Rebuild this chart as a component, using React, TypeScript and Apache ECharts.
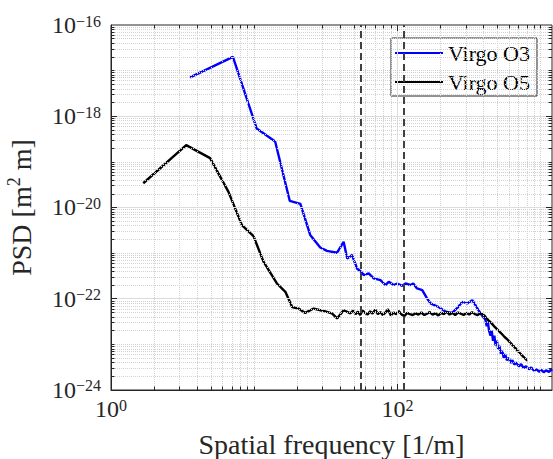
import React, { useEffect, useRef } from 'react';
import * as echarts from 'echarts';

// ---- data ----
const o3Freq = [
  3.57, 7.1, 10.4, 14.0, 17.7, 21.0, 24.6, 28.9, 32.2, 37.9, 42.1, 44.6, 48.2, 52.2, 55.7, 58.1, 63,
  68.3, 76.1, 82.4, 86.9, 94.2, 99.5, 108, 114, 123, 129, 137, 149, 161, 170, 194, 217, 241, 261, 283,
  307, 333, 351, 380, 412, 420, 428, 436, 447, 455, 465, 475, 484, 495, 505, 515, 528, 540, 552, 565,
  580, 600, 615, 635, 655, 675, 705, 730, 760, 790, 828, 860, 900, 940, 973, 1010, 1050, 1090, 1143,
  1180, 1200,
];
const o3Psd = [
  7.1e-18, 2.0e-17, 5.4e-19, 2.8e-19, 1.4e-20, 1.2e-20, 2.5e-21, 1.33e-21, 1.12e-21, 1.02e-21, 1.77e-21,
  7.6e-22, 9.1e-22, 4.6e-22, 3.9e-22, 3.3e-22, 3.6e-22, 2.8e-22, 2.57e-22, 2.0e-22, 2.35e-22, 2.0e-22,
  2.16e-22, 1.92e-22, 2.16e-22, 2.0e-22, 2.16e-22, 1.68e-22, 1.55e-22, 1.02e-22, 7.9e-23, 6.6e-23,
  5.2e-23, 4.9e-23, 6.2e-23, 8.5e-23, 7.9e-23, 9.3e-23, 7.2e-23, 4.8e-23, 3.4e-23, 2.5e-23, 3.1e-23,
  2.0e-23, 1.55e-23, 2.0e-23, 1.2e-23, 1.55e-23, 9.5e-24, 1.2e-23, 7.8e-24, 9.4e-24, 6.2e-24,
  7.2e-24, 5.1e-24, 6.1e-24, 4.5e-24, 5.1e-24, 3.9e-24, 4.5e-24, 3.6e-24, 4.0e-24, 3.3e-24, 3.7e-24,
  3.05e-24, 3.3e-24, 2.85e-24, 3.1e-24, 2.65e-24, 2.85e-24, 2.5e-24, 2.75e-24, 2.45e-24, 2.7e-24,
  2.5e-24, 2.8e-24, 2.6e-24,
];
const o5Freq = [
  1.68, 3.35, 4.92, 6.61, 8.2, 9.89, 11.6, 14.4, 16.5, 18.4, 20.4, 22.7, 26.0, 30.5, 34.9, 37.9, 42.1,
  47, 49, 51, 53, 55, 57, 59.5, 62, 64.5, 67, 70, 73, 76, 79, 82, 86, 90, 94, 98, 102, 107, 112, 117,
  122, 128, 134, 140, 147, 154, 161, 168, 176, 184, 193, 202, 211, 221, 231, 242, 253, 265, 277, 290,
  303, 317, 332, 347, 363, 380, 398, 412, 430, 450, 470, 500, 530, 560, 590, 620, 655, 690, 720, 750,
  780, 807,
];
const o5Psd = [
  3.4e-20, 2.33e-19, 1.21e-19, 2.2e-20, 4.1e-21, 2.36e-21, 6.5e-22, 2.16e-22, 1.42e-22, 6.6e-23,
  6.1e-23, 4.9e-23, 6.1e-23, 5.4e-23, 4.8e-23, 3.7e-23, 5.6e-23,
  4.8e-23, 5.5e-23, 4.6e-23, 5.2e-23, 4.4e-23, 5.6e-23, 4.9e-23, 4.5e-23, 5.3e-23, 4.7e-23, 5.8e-23,
  4.6e-23, 5.1e-23, 4.4e-23, 4.9e-23, 5.9e-23, 4.3e-23, 5.0e-23, 4.6e-23, 5.4e-23, 4.5e-23, 4.2e-23,
  4.9e-23, 4.6e-23, 4.4e-23, 4.8e-23, 4.5e-23, 5.0e-23, 4.4e-23, 4.7e-23, 5.1e-23, 4.5e-23, 4.8e-23,
  4.3e-23, 4.9e-23, 4.6e-23, 5.2e-23, 4.5e-23, 4.9e-23, 4.4e-23, 5.0e-23, 4.7e-23, 4.4e-23, 4.9e-23,
  4.5e-23, 5.1e-23, 4.6e-23, 4.4e-23, 4.8e-23, 4.5e-23, 4.0e-23,
  3.4e-23, 3.0e-23, 2.55e-23, 2.1e-23, 1.75e-23, 1.45e-23, 1.25e-23, 1.05e-23, 8.8e-24, 7.3e-24,
  6.3e-24, 5.5e-24, 4.9e-24, 4.4e-24,
];
const markerFreqs = [55, 110];
const seriesNames = ['Virgo O3', 'Virgo O5'];
const X_MIN = 1;
const X_MAX = 1200;
const Y_MIN = 0.99999e-24;
const Y_MAX = 1e-16;

// ---- styling ----
const GRID = { left: 111, top: 25, width: 441, height: 365 };
const FONT = "'Liberation Serif', 'Times New Roman', serif";
const INK = '#262626';

type G = { v: number; k: number; n: number; major: boolean };
function logGridValues(min: number, max: number): G[] {
  const out: G[] = [];
  const n0 = Math.floor(Math.log10(min));
  const n1 = Math.ceil(Math.log10(max));
  for (let n = n0; n <= n1; n++) {
    for (let k = 1; k <= 9; k++) {
      const v = k * Math.pow(10, n);
      if (v >= min * 0.999 && v <= max * 1.001) out.push({ v, k, n, major: k === 1 && n % 2 === 0 });
    }
  }
  return out;
}

function powLabel(v: number) {
  const e = Math.log10(v);
  const r = Math.round(e);
  if (Math.abs(e - r) > 1e-4 || r % 2 !== 0) return '';
  return `{b|10}{s|${r < 0 ? '\u2212' + -r : r}}`;
}

const tickRich = {
  b: { fontFamily: FONT, fontSize: 24, lineHeight: 24, padding: [3, 0, 3, 0], color: INK },
  s: { fontFamily: FONT, fontSize: 16, lineHeight: 16, verticalAlign: 'top', color: INK },
};

function buildOption() {
  const xDec = Math.log10(X_MAX / X_MIN);
  const yDec = Math.log10(Y_MAX / Y_MIN);
  const fx = (px: number) => Math.pow(10, (px * xDec) / GRID.width);
  const fy = (px: number) => Math.pow(10, (px * yDec) / GRID.height);
  const xVals = logGridValues(X_MIN, X_MAX).filter((g) => g.v > X_MIN * 1.001 && g.v < X_MAX * 0.999);
  const yVals = logGridValues(Y_MIN, Y_MAX).filter((g) => g.v > Y_MIN * 1.001 && g.v < Y_MAX * 0.999);

  const majorGrid = { color: '#dcdcdc', width: 1, type: 'solid' as const };
  const minorGrid = { color: '#d2d2d2', width: 1, type: [1, 1] };

  const gridLines: any[] = [
    ...xVals.map((g) => [
      { coord: [g.v, Y_MIN], lineStyle: g.major ? majorGrid : minorGrid },
      { coord: [g.v, Y_MAX] },
    ]),
    ...yVals.map((g) => [
      { coord: [X_MIN, g.v], lineStyle: g.major ? majorGrid : minorGrid },
      { coord: [X_MAX, g.v] },
    ]),
  ];

  const ticks: any[] = [];
  for (const g of xVals) {
    const f = fy(g.major ? 6 : 3.5);
    ticks.push([{ coord: [g.v, Y_MIN] }, { coord: [g.v, Y_MIN * f] }]);
    ticks.push([{ coord: [g.v, Y_MAX] }, { coord: [g.v, Y_MAX / f] }]);
  }
  for (const g of yVals) {
    const f = fx(g.major ? 6 : 3.5);
    ticks.push([{ coord: [X_MIN, g.v] }, { coord: [X_MIN * f, g.v] }]);
    ticks.push([{ coord: [X_MAX, g.v] }, { coord: [X_MAX / f, g.v] }]);
  }

  const markBase = {
    symbol: ['none', 'none'],
    silent: true,
    animation: false,
    precision: 20,
    label: { show: false },
    emphasis: { disabled: true },
  };

  return {
    animation: false,
    backgroundColor: '#ffffff',
    grid: {
      ...GRID,
      show: true,
      borderColor: INK,
      borderWidth: 1,
      backgroundColor: '#ffffff',
      containLabel: false,
      outerBoundsMode: 'none',
    },
    legend: {
      data: seriesNames,
      orient: 'vertical',
      right: 16,
      top: 38,
      padding: [4, 7, 3, 4],
      itemGap: 7,
      itemWidth: 48,
      itemHeight: 2,
      icon: 'rect',
      backgroundColor: '#ffffff',
      borderColor: INK,
      borderWidth: 1,
      borderRadius: 0,
      selectedMode: false,
      textStyle: { fontFamily: FONT, fontSize: 22, color: '#000', lineHeight: 22 },
    },
    xAxis: {
      type: 'log',
      logBase: 10,
      min: X_MIN,
      max: X_MAX,
      name: 'Spatial frequency [1/m]',
      nameLocation: 'middle',
      nameGap: 40,
      nameMoveOverlap: false,
      nameTextStyle: { fontFamily: FONT, fontSize: 28, color: INK },
      axisLine: { show: true, lineStyle: { color: INK, width: 1 } },
      axisTick: { show: false },
      splitLine: { show: false },
      minorSplitLine: { show: false },
      axisLabel: { margin: 7, formatter: powLabel, rich: tickRich, showMinLabel: true, showMaxLabel: true, hideOverlap: false },
    },
    yAxis: {
      type: 'log',
      logBase: 10,
      min: Y_MIN,
      max: Y_MAX,
      name: '{b|PSD [m}{s|2}{b| m]}',
      nameLocation: 'middle',
      nameRotate: 90,
      nameGap: 78,
      nameMoveOverlap: false,
      nameTextStyle: {
        fontFamily: FONT,
        fontSize: 28,
        color: INK,
        rich: {
          b: { fontFamily: FONT, fontSize: 28, lineHeight: 28, padding: [5, 0, 0, 0], color: INK },
          s: { fontFamily: FONT, fontSize: 18, lineHeight: 18, verticalAlign: 'top', color: INK },
        },
      },
      axisLine: { show: true, lineStyle: { color: INK, width: 1 } },
      axisTick: { show: false },
      splitLine: { show: false },
      minorSplitLine: { show: false },
      axisLabel: { margin: 10, formatter: powLabel, rich: tickRich, showMinLabel: true, showMaxLabel: true, hideOverlap: false },
    },
    series: [
      {
        name: '__grid',
        type: 'line',
        data: [],
        z: 1,
        markLine: { ...markBase, data: gridLines },
      },
      {
        name: '__markers',
        type: 'line',
        data: [],
        z: 2,
        markLine: {
          ...markBase,
          lineStyle: { color: '#404040', width: 2, type: [7, 4] },
          data: markerFreqs.map((v) => ({ xAxis: v })),
        },
      },
      {
        name: seriesNames[0],
        type: 'line',
        data: o3Freq.map((f, i) => [f, o3Psd[i]]),
        symbol: 'none',
        showSymbol: false,
        z: 3,
        lineStyle: { color: '#0000ff', width: 2.4 },
        itemStyle: { color: '#0000ff' },
      },
      {
        name: seriesNames[1],
        type: 'line',
        data: o5Freq.map((f, i) => [f, o5Psd[i]]),
        symbol: 'none',
        showSymbol: false,
        z: 4,
        lineStyle: { color: '#000000', width: 2.4 },
        itemStyle: { color: '#000000' },
      },
      {
        name: '__ticks',
        type: 'line',
        data: [],
        z: 6,
        markLine: { ...markBase, lineStyle: { color: INK, width: 1, type: 'solid' }, data: ticks },
      },
    ],
  };
}

export default function App() {
  const ref = useRef<HTMLDivElement>(null);
  useEffect(() => {
    if (!ref.current) return;
    const chart = echarts.init(ref.current, null, { renderer: 'svg' });
    chart.setOption(buildOption() as any);
    return () => chart.dispose();
  }, []);
  return (
    <div
      ref={ref}
      style={{ position: 'fixed', left: 0, top: 0, width: 553, height: 459, background: '#fff' }}
    />
  );
}
